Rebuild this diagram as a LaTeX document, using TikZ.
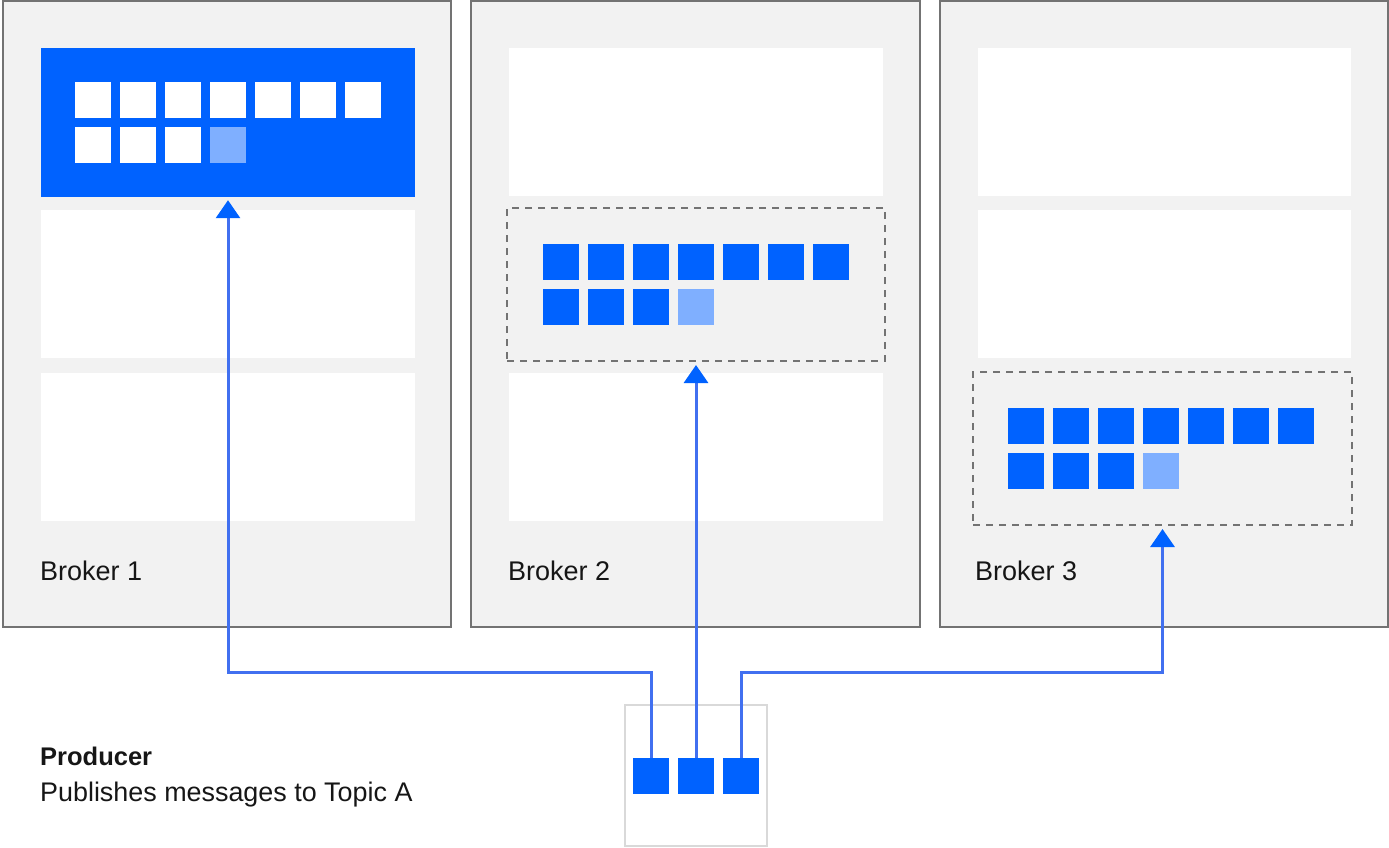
\documentclass[tikz,border=0pt]{standalone}
\usepackage{fontspec}
\setmainfont{Liberation Sans}
\usetikzlibrary{arrows.meta,fit}

\definecolor{bg}{HTML}{F2F2F2}
\definecolor{frame}{HTML}{737373}
\definecolor{ibmblue}{HTML}{0062FF}
\definecolor{paleblue}{HTML}{7FAFFF}
\definecolor{wire}{HTML}{4170F0}
\definecolor{ink}{HTML}{161616}
\definecolor{lightframe}{HTML}{D9D9D9}

\tikzset{
  broker/.style={draw=frame, line width=2pt, fill=bg, inner sep=0pt},
  panel/.style={fill=white, inner sep=0pt},
  activepanel/.style={fill=ibmblue, inner sep=0pt},
  partbox/.style={draw=frame, line width=2pt, dash pattern=on 7pt off 6pt, inner sep=0pt},
  msg/.style={minimum size=36pt, inner sep=0pt, outer sep=0pt},
  label/.style={anchor=base west, text=ink, inner sep=0pt, font=\fontsize{27}{32}\selectfont},
  wireline/.style={draw=wire, line width=3pt, shorten >=3pt,
    -{Triangle[width=24pt,length=18pt,color=ibmblue]}},
}

% one partition: seven messages on top, four below (last one still being written)
\newcommand\partitionmsgs[4]{%
  \foreach \i in {0,...,6}
    \node[msg, fill=#4] (#1-a\i) at ({#2+18+45*\i},{#3+18}) {};
  \foreach \i in {0,1,2}
    \node[msg, fill=#4] (#1-b\i) at ({#2+18+45*\i},{#3+63}) {};
  \node[msg, fill=paleblue] (#1-b3) at ({#2+18+135},{#3+63}) {};
}

\begin{document}
\begin{tikzpicture}[x=1pt,y=-1pt]
\useasboundingbox (0,0) rectangle (1389,848);

% brokers
\node[broker, fit={(3,1) (451,627)}] (B1) {};
\node[broker, fit={(471,1) (920,627)}] (B2) {};
\node[broker, fit={(940,1) (1388,627)}] (B3) {};

% broker 1 partitions
\node[activepanel, fit={(41,48) (415,197)}] (B1a) {};
\node[panel, fit={(41,210) (415,358)}] (B1b) {};
\node[panel, fit={(41,373) (415,521)}] (B1c) {};
\partitionmsgs{m1}{75}{82}{white}

% broker 2 partitions
\node[panel, fit={(509,48) (883,196)}] (B2a) {};
\node[partbox, fit={(507,208) (885,361)}] (B2b) {};
\node[panel, fit={(509,373) (883,521)}] (B2c) {};
\partitionmsgs{m2}{543}{244}{ibmblue}

% broker 3 partitions
\node[panel, fit={(978,48) (1351,196)}] (B3a) {};
\node[panel, fit={(978,210) (1351,358)}] (B3b) {};
\node[partbox, fit={(973,372) (1352,525)}] (B3c) {};
\partitionmsgs{m3}{1008}{408}{ibmblue}

% broker labels
\node[label] (L1) at (40,580) {Broker 1};
\node[label] (L2) at (508,580) {Broker 2};
\node[label] (L3) at (975,580) {Broker 3};

% producer
\node[draw=lightframe, line width=2pt, fill=white, inner sep=0pt, fit={(625,705) (767,846)}] (P) {};
\node[msg, fill=ibmblue] (p1) at (651,776) {};
\node[msg, fill=ibmblue] (p2) at (696,776) {};
\node[msg, fill=ibmblue] (p3) at (741,776) {};

\node[anchor=base west, text=ink, inner sep=0pt, font=\bfseries\fontsize{25.5}{30}\selectfont] (PT) at (40,765) {Producer};
\node[anchor=base west, text=ink, inner sep=0pt, font=\fontsize{26.9}{31}\selectfont] (PD) at (40,801) {Publishes messages to Topic A};

% routes from producer to partitions
\coordinate (k1) at (651,672);
\coordinate (k3) at (741,672);
\draw[wireline] (p1.north) -- (k1) -| (B1a.south);
\draw[wireline] (p2.north) -- (B2b.south);
\draw[wireline] (p3.north) -- (k3) -| (B3c.south);
\end{tikzpicture}
\end{document}
